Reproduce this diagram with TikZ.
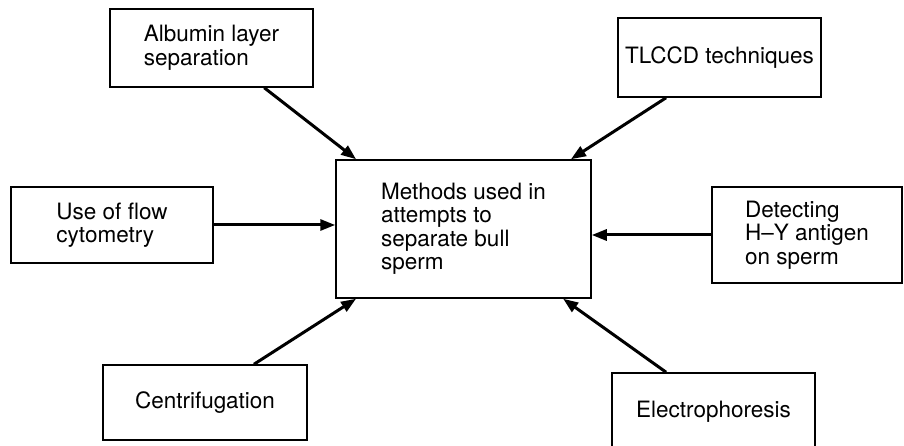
\documentclass[tikz,border=0pt]{standalone}
\usepackage{fontspec}
\setmainfont{TeX Gyre Heros}
\usetikzlibrary{arrows.meta,positioning,calc}
\tikzset{
  method/.style={
    draw, line width=1.5pt, minimum width=203pt, minimum height=78pt,
    inner sep=0pt, align=left, font=\fontsize{22.5}{23.5}\selectfont
  },
  hub/.style={method, minimum width=255pt, minimum height=138pt},
  feed/.style={-{Triangle[length=15pt,width=11pt]}, line width=3pt}
}

\begin{document}
\begin{tikzpicture}[x=1pt, y=1pt]
  \clip (0,0) rectangle (904,-446);
  \node[hub] (meth) at (463.5,-229) {Methods used in\\attempts to\\separate bull\\sperm};
  \node[method] (alb) at (211.5,-48) {Albumin layer\\separation};
  \node[method, minimum height=79pt] (tlc) at (719.5,-57.5) {TLCCD techniques};
  \node[method, minimum width=202pt, minimum height=76pt] (flow) at (112,-225) {Use of flow\\cytometry};
  \node[method, minimum width=190pt, minimum height=96pt] (det) at (807,-235) {Detecting\\H--Y antigen\\on sperm};
  \node[method, minimum width=204pt, minimum height=75pt] (cen) at (205,-402.5) {Centrifugation};
  \node[method] (ele) at (713.5,-412) {Electrophoresis};
  % arrows into the central box
  \foreach \a/\b in {alb.-37/meth.147.5, tlc.217.5/meth.33.7, cen.38/meth.213.4, ele.140/meth.-35}
    {\draw[feed] (\a) -- (\b);}
  \draw[feed] (flow.east) -- (flow.east -| meth.west);
  \draw[feed] (det.west) -- (det.west -| meth.east);
\end{tikzpicture}
\end{document}
